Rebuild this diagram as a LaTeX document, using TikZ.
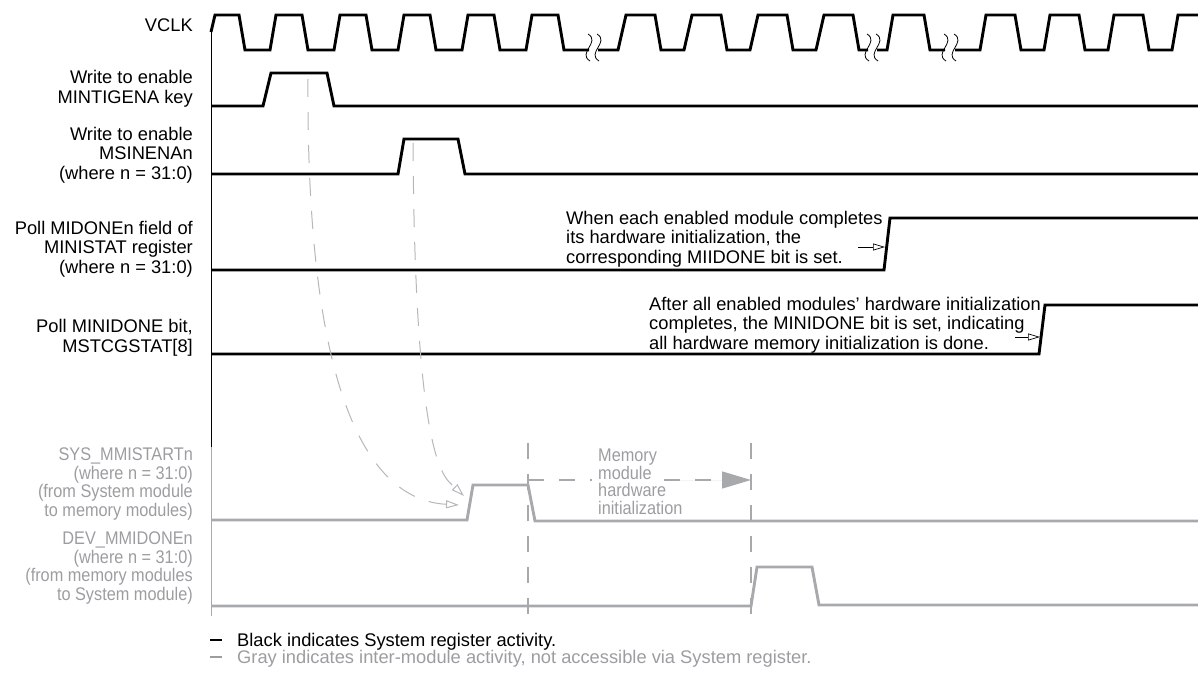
\documentclass[tikz,border=0pt]{standalone}
\usepackage{fontspec}
\setmainfont{Liberation Sans}
\newfontfamily\narrowsans[FakeStretch=0.89]{Liberation Sans}
\usetikzlibrary{arrows.meta}
\definecolor{siggray}{RGB}{168,169,172}
\definecolor{txtgray}{RGB}{156,157,160}
\definecolor{curvegray}{RGB}{182,183,186}

\begin{document}
\begin{tikzpicture}[x=1bp, y=-1bp,
  sigline/.style={line width=2.9bp, line join=miter},
  graysig/.style={line width=2.9bp, draw=siggray},
  labelnode/.style={anchor=east, align=right, inner sep=0pt, font=\fontsize{18.3bp}{19.7bp}\selectfont},
  graylabel/.style={anchor=east, align=right, inner sep=0pt, text=txtgray, font=\narrowsans\fontsize{18.3bp}{18.8bp}\selectfont},
  notenode/.style={anchor=west, align=left, inner sep=0pt, font=\fontsize{18.3bp}{19.3bp}\selectfont},
  breakmark/.style={line width=0.8bp},
  stepline/.style={draw=siggray, line width=1.3bp, dash pattern=on 16bp off 15bp},
  flowcurve/.style={draw=curvegray, line width=1bp, dash pattern=on 18bp off 15bp, -{Triangle[open, length=13bp, width=8bp]}},
  notearrow/.style={line width=0.7bp, -{Triangle[open, length=12bp, width=7bp]}}]

        \useasboundingbox (0,0) rectangle (1198,675);

        \node[labelnode] (vclklbl) at (193,25) {VCLK};
        \node[labelnode] (keylbl) at (193,89) {Write to enable\\MINTIGENA key};
        \node[labelnode] (msinlbl) at (193,155) {Write to enable\\MSINENAn\\(where n = 31:0)};
        \node[labelnode] (midonelbl) at (193,249) {Poll MIDONEn field of\\MINISTAT register\\(where n = 31:0)};
        \node[labelnode] (minidonelbl) at (193,338) {Poll MINIDONE bit,\\MSTCGSTAT[8]};
        \node[graylabel] (syslbl) at (193,484) {SYS\_MMISTARTn\\(where n = 31:0)\\(from System module\\to memory modules)};
        \node[graylabel] (devlbl) at (193,568) {DEV\_MMIDONEn\\(where n = 31:0)\\(from memory modules\\to System module)};

        \draw[line width=0.9bp] (211,32) -- (211,447);
        \draw[siggray, line width=0.9bp] (211,447) -- (211,616);

        \draw[sigline] (211,32) -- (215,15) -- (239,15) -- (245,50)
          \foreach \r in {270,334,398,462,526} { -- (\r,50) -- (\r+6,15) -- (\r+32,15) -- (\r+38,50) } -- (589,50);
        \draw[sigline] (598,50)
          \foreach \r in {618,684,750,816} { -- (\r,50) -- (\r+8,15) -- (\r+37,15) -- (\r+43,50) } -- (868,50);
        \draw[sigline] (877,50) -- (887,50) -- (893,15) -- (924,15) -- (930,50) -- (945,50);
        \draw[sigline] (955,50)
          \foreach \r in {980,1044,1108} { -- (\r,50) -- (\r+6,15) -- (\r+35,15) -- (\r+41,50) } -- (1172,50) -- (1178,15) -- (1198,15);
        \foreach \c in {589,598,868,877,945,955}
          \draw[breakmark] (\c-1,34) .. controls (\c+12,42) and (\c-12,53) .. (\c+1,61);

        \draw[sigline] (211,106) -- (263,106) -- (271,73) -- (327,73) -- (334,106) -- (1198,106);
        \draw[sigline] (211,174) -- (398,174) -- (404,139) -- (458,139) -- (465,174) -- (1198,174);
        \draw[sigline] (211,270) -- (884,270) -- (890,218) -- (1198,218);
        \draw[sigline] (211,354) -- (1039,354) -- (1045,305) -- (1198,305);

        \node[notenode] (note1) at (566,239) {When each enabled module completes\\its hardware initialization, the\\corresponding MIIDONE bit is set.};
        \node[notenode] (note2) at (649,325) {After all enabled modules’ hardware initialization\\completes, the MINIDONE bit is set, indicating\\all hardware memory initialization is done.};
        \coordinate (note1tail) at (858,247);
        \coordinate (note1tip) at (885,247);
        \coordinate (note2tail) at (1015,337);
        \coordinate (note2tip) at (1040,337);
        \draw[notearrow] (note1tail) -- (note1tip);
        \draw[notearrow] (note2tail) -- (note2tip);

        \draw[graysig] (211,520) -- (467,520) -- (473,485) -- (528,485) -- (535,521) -- (1198,521);
        \draw[graysig] (211,606) -- (751,606) -- (757,567) -- (812,567) -- (819,605) -- (1198,605);

        \draw[stepline] (528,443) -- (528,618);
        \draw[stepline] (751,443) -- (751,618);

        \node[anchor=west, align=left, inner sep=0pt, text=txtgray, font=\narrowsans\fontsize{18.3bp}{17.5bp}\selectfont] (memtxt) at (598,482) {Memory\\module\\hardware\\initialization};
        \coordinate (initstart) at (528,480);
        \coordinate (initgap) at (664,480);
        \coordinate (initend) at (751,480);
        \draw[stepline] (initstart) -- ([xshift=-6bp]memtxt.west |- initstart);
        \draw[stepline, -{Triangle[length=29bp, width=17bp]}, fill=siggray] (initgap) -- (initend);

        \coordinate (keymark) at (308,79);
        \coordinate (msinmark) at (413,143);
        \coordinate (sysin1) at (459,505);
        \coordinate (sysin2) at (464,496);
        \draw[flowcurve] (keymark) .. controls (306,400) and (370,500) .. (sysin1);
        \draw[flowcurve] (msinmark) .. controls (415,470) and (445,478) .. (sysin2);

        \node[notenode] (legblack) at (210,642) {\rule[5.5bp]{12bp}{1.8bp}\hspace{15bp}Black indicates System register activity.};
        \node[notenode, text=txtgray] (leggray) at (210,659) {\textcolor{txtgray}{\rule[5.5bp]{12bp}{1.8bp}}\hspace{15bp}Gray indicates inter-module activity, not accessible via System register.};

\end{tikzpicture}
\end{document}
